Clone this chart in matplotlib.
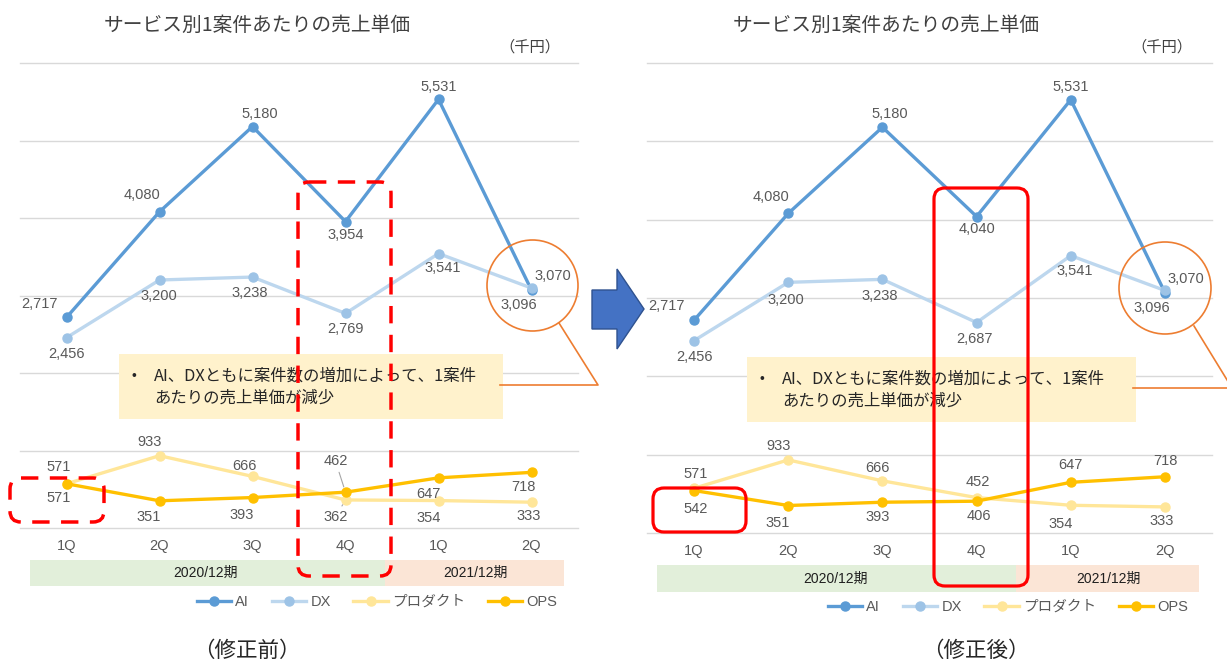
import matplotlib
matplotlib.use('Agg')
import matplotlib.pyplot as plt
from matplotlib.patches import FancyBboxPatch, Rectangle, Circle, Polygon
from matplotlib.lines import Line2D

# ---------------- data ----------------
categories = ['1Q', '2Q', '3Q', '4Q', '1Q', '2Q']
periods = ['2020/12期', '2021/12期']
series_names = ['AI', 'DX', 'プロダクト', 'OPS']
chart_title = 'サービス別1案件あたりの売上単価'
unit_label = '（千円）'
note_lines = ['AI、DXともに案件数の増加によって、1案件', 'あたりの売上単価が減少']
captions = ['（修正前）', '（修正後）']

before_ai = [2717, 4080, 5180, 3954, 5531, 3070]
before_dx = [2456, 3200, 3238, 2769, 3541, 3096]
before_product = [571, 933, 666, 362, 354, 333]
before_ops = [571, 351, 393, 462, 647, 718]

after_ai = [2717, 4080, 5180, 4040, 5531, 3070]
after_dx = [2456, 3200, 3238, 2687, 3541, 3096]
after_product = [571, 933, 666, 452, 354, 333]
after_ops = [542, 351, 393, 406, 647, 718]

# ---------------- style ----------------
plt.rcParams['font.family'] = ['Liberation Sans', 'Noto Sans CJK JP']
JP = ['Noto Sans CJK JP', 'Liberation Sans']
LBL = '#595959'
line_colors = {'AI': '#5B9BD5', 'DX': '#BDD7EE', 'プロダクト': '#FFE699', 'OPS': '#FFC000'}
marker_colors = {'AI': '#5B9BD5', 'DX': '#9DC3E6', 'プロダクト': '#FFE699', 'OPS': '#FFC000'}

W, H = 1227, 666
fig = plt.figure(figsize=(W / 100, H / 100), dpi=100)
fig.patch.set_facecolor('white')


def frac_rect(x0, y0, x1, y1):
    return [x0 / W, 1 - y1 / H, (x1 - x0) / W, (y1 - y0) / H]


def draw_chart(rect, data, offsets, leaders):
    ax = fig.add_axes(frac_rect(*rect))
    ax.set_xlim(-0.5, 5.5)
    ax.set_ylim(0, 6000)
    ax.set_yticks(range(0, 6001, 1000))
    ax.yaxis.grid(True, color='#D9D9D9', lw=1.0)
    for gl in ax.get_ygridlines():
        gl.set_clip_on(False)
    ax.set_axisbelow(True)
    ax.tick_params(axis='y', left=False, labelleft=False)
    xs = list(range(len(categories)))
    ax.set_xticks(xs)
    ax.set_xticklabels(categories)
    ax.tick_params(axis='x', length=0, pad=8, labelsize=10.5, labelcolor=LBL)
    for s in ax.spines.values():
        s.set_visible(False)
    ax.patch.set_alpha(0)
    for k, (name, vals) in enumerate(zip(series_names, data)):
        ax.plot(xs, vals, color=line_colors[name], lw=2.4, marker='o', ms=6.5,
                mfc=marker_colors[name], mec=marker_colors[name], zorder=3 + k,
                clip_on=False, solid_capstyle='round')
        for i, v in enumerate(vals):
            dx, dy = offsets[k][i]
            if (k, i) in leaders:
                ax.annotate(f'{v:,}', (i, v), xytext=(dx, dy), textcoords='offset pixels',
                            ha='center', va='center', fontsize=10.5, color=LBL, zorder=10,
                            arrowprops=dict(arrowstyle='-', color='#A6A6A6', lw=0.8,
                                            shrinkA=1, shrinkB=4))
            else:
                ax.annotate(f'{v:,}', (i, v), xytext=(dx, dy), textcoords='offset pixels',
                            ha='center', va='center', fontsize=10.5, color=LBL, zorder=10)
    return ax


before_offsets = [
    [(-27, 13), (-17, 17), (7, 13), (0, -13), (0, 12), (21, 14)],
    [(0, -16), (-1, -16), (-3, -16), (0, -16), (4, -14), (-13, -17)],
    [(-8, 17), (-10, 14), (-8, 10), (-10, -17), (-10, -17), (-3, -14)],
    [(-8, -14), (-11, -16), (-11, -17), (-10, 31), (-10, -16), (-8, -15)],
]
after_offsets = [
    [(-28, 14), (-17, 16), (7, 13), (0, -12), (0, 13), (21, 14)],
    [(0, -16), (-2, -18), (-3, -17), (-2, -16), (4, -15), (-13, -18)],
    [(2, 14), (-10, 14), (-5, 13), (1, 16), (-10, -19), (-3, -14)],
    [(2, -18), (-11, -17), (-5, -15), (2, -15), (0, 17), (1, 16)],
]

ax1 = draw_chart((20, 63, 578, 528), [before_ai, before_dx, before_product, before_ops],
                 before_offsets, {(2, 3), (3, 3)})
ax2 = draw_chart((647, 63, 1212, 533), [after_ai, after_dx, after_product, after_ops],
                 after_offsets, set())

# legends
handles = [Line2D([0], [0], color=line_colors[n], lw=2.4, marker='o', ms=6.5,
                  mfc=marker_colors[n], mec=marker_colors[n]) for n in series_names]
for cx, cy in [(377, 602), (1008, 607)]:
    fig.legend(handles, series_names, loc='center', bbox_to_anchor=(cx / W, 1 - cy / H),
               ncol=4, frameon=False, handlelength=2.35, handletextpad=0.3,
               columnspacing=1.55, fontsize=10.5, labelcolor=LBL, numpoints=1,
               borderpad=0, borderaxespad=0)

# ---------------- overlay ----------------
ov = fig.add_axes([0, 0, 1, 1])
ov.set_xlim(0, W)
ov.set_ylim(H, 0)
ov.axis('off')
ov.set_zorder(10)
ov.patch.set_alpha(0)

# period bands
for (g0, g1, p1, y0, y1, t1x, t2x) in [(30, 385, 564, 560, 586, 206, 475),
                                         (657, 1016, 1199, 565, 592, 836, 1108)]:
    ov.add_patch(Rectangle((g0, y0), g1 - g0, y1 - y0, fc='#E2EFDA', ec='none', zorder=1))
    ov.add_patch(Rectangle((g1, y0), p1 - g1, y1 - y0, fc='#FBE5D6', ec='none', zorder=1))
    ov.text(t1x, (y0 + y1) / 2, periods[0], ha='center', va='center', fontsize=10,
            color='#1F1F1F', zorder=2)
    ov.text(t2x, (y0 + y1) / 2, periods[1], ha='center', va='center', fontsize=10,
            color='#1F1F1F', zorder=2)

# note boxes
for (bx0, by0, bx1, by1) in [(119, 354, 503, 419), (747, 357, 1136, 422)]:
    ov.add_patch(Rectangle((bx0, by0), bx1 - bx0, by1 - by0, fc='#FFF2CC', ec='none', zorder=2))
    ov.text(bx0 + 15, by0 + 22, '•', ha='center', va='center', fontsize=10, color='#262626',
            zorder=3)
    ov.text(bx0 + 35, by0 + 22, note_lines[0], ha='left', va='center', fontsize=11.8,
            color='#262626', family=JP, zorder=3)
    ov.text(bx0 + 35, by0 + 44, note_lines[1], ha='left', va='center', fontsize=11.8,
            color='#262626', family=JP, zorder=3)

# orange circles and callout lines
ORANGE = '#ED7D31'
ov.add_patch(Circle((532.5, 285.5), 45.5, fc='none', ec=ORANGE, lw=1.2, zorder=4))
ov.plot([559, 598, 500], [323, 385, 385], color=ORANGE, lw=1.2, zorder=4)
ov.add_patch(Circle((1165, 288), 46, fc='none', ec=ORANGE, lw=1.2, zorder=4))
ov.plot([1194, 1232, 1133], [326, 388, 388], color=ORANGE, lw=1.2, zorder=4)

# blue arrow
ov.add_patch(Polygon([(592, 290), (617, 290), (617, 269), (644, 309), (617, 349),
                      (617, 329), (592, 329)], closed=True, fc='#4472C4', ec='#2F528F',
                     lw=1.0, zorder=5))

# red boxes
for (x0, y0, x1, y1) in [(10, 478, 104, 522), (298, 182, 391, 576)]:
    ov.add_patch(FancyBboxPatch((x0, y0), x1 - x0, y1 - y0,
                                boxstyle='round,pad=0,rounding_size=11', fc='none',
                                ec='#FF0000', lw=2.5, linestyle=(0, (5, 3.3)), zorder=6))
for (x0, y0, x1, y1) in [(653, 488, 746, 532), (934, 188, 1028, 586)]:
    ov.add_patch(FancyBboxPatch((x0, y0), x1 - x0, y1 - y0,
                                boxstyle='round,pad=0,rounding_size=11', fc='none',
                                ec='#FF0000', lw=2.3, zorder=6))

# titles, units, captions
for tx, ux, cx, cap in [(257, 530, 247, captions[0]), (886, 1162, 976, captions[1])]:
    ov.text(tx, 25, chart_title, ha='center', va='center', fontsize=14.2, color='#404040',
            family=JP)
    ov.text(ux, 47, unit_label, ha='center', va='center', fontsize=11, color='#404040',
            family=JP)
    ov.text(cx, 651, cap, ha='center', va='center', fontsize=15.5, color='#262626', family=JP)

fig.savefig('out.png', dpi=100)
